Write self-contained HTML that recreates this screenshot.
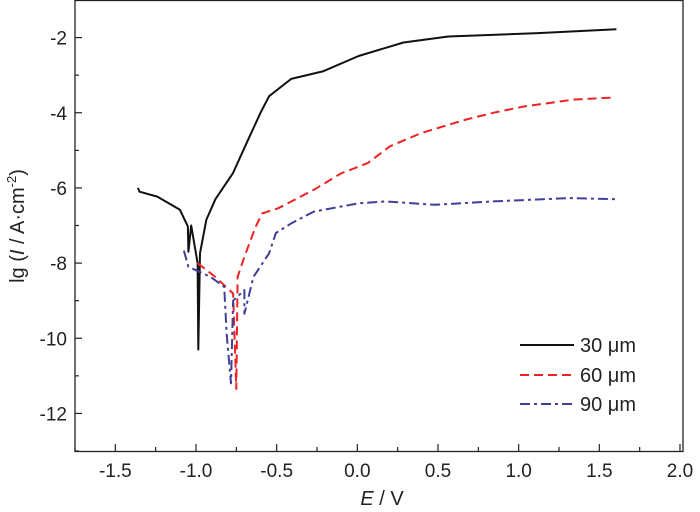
<!DOCTYPE html>
<html><head><meta charset="utf-8"><style>
html,body{margin:0;padding:0;background:#fff;}
svg{display:block;font-family:"Liberation Sans",Arial,sans-serif;}
</style></head><body>
<svg id="chart" width="700" height="512" viewBox="0 0 700 512">
<g id="axes"></g>
<g id="series"></g>
<g id="legend"></g>
<text x="382" y="505" font-size="20" text-anchor="middle" fill="#222"><tspan font-style="italic">E</tspan> / V</text>
<text transform="translate(24,226) rotate(-90)" font-size="20" text-anchor="middle" fill="#222">lg (<tspan font-style="italic">I</tspan> / A·cm<tspan dy="-8" font-size="13">-2</tspan><tspan dy="8">)</tspan></text>
</svg>
<script>
const xTicks=[-1.5,-1.0,-0.5,0.0,0.5,1.0,1.5,2.0];
const xTickLabels=["-1.5","-1.0","-0.5","0.0","0.5","1.0","1.5","2.0"];
const yTicks=[-2,-4,-6,-8,-10,-12];
const yTickLabels=["-2","-4","-6","-8","-10","-12"];
const seriesNames=["30 μm","60 μm","90 μm"];
const e30=[-1.36,-1.35,-1.24,-1.10,-1.05,-1.047,-1.03,-0.99,-0.986,-0.975,-0.936,-0.88,-0.77,-0.686,-0.60,-0.547,-0.41,-0.214,0.008,0.286,0.564,1.12,1.606];
const lg30=[-6.0,-6.1,-6.23,-6.58,-7.03,-7.7,-7.0,-8.0,-10.3,-7.74,-6.85,-6.3,-5.6,-4.8,-4.0,-3.56,-3.1,-2.9,-2.49,-2.13,-1.97,-1.88,-1.78];
const e60=[-0.99,-0.88,-0.77,-0.75,-0.742,-0.70,-0.63,-0.59,-0.49,-0.27,-0.10,0.064,0.203,0.397,0.675,0.842,1.036,1.342,1.564,1.60];
const lg60=[-8.0,-8.37,-8.81,-11.35,-8.37,-7.83,-7.03,-6.68,-6.54,-6.05,-5.61,-5.34,-4.89,-4.54,-4.18,-4.0,-3.83,-3.65,-3.6,-3.6];
const e90=[-1.075,-1.047,-0.908,-0.825,-0.81,-0.783,-0.77,-0.70,-0.70,-0.644,-0.547,-0.505,-0.408,-0.27,0.008,0.175,0.48,0.842,1.314,1.606];
const lg90=[-7.67,-8.1,-8.37,-8.63,-9.9,-11.2,-9.0,-8.72,-9.35,-8.37,-7.74,-7.2,-6.94,-6.63,-6.41,-6.36,-6.45,-6.36,-6.27,-6.3];

const NS="http://www.w3.org/2000/svg";
const L=75,R=680,T=0,B=451,xmin=-1.75,xmax=2.0,ymin=-13,ymax=-1;
function sx(v){return L+(v-xmin)/(xmax-xmin)*(R-L);}
function sy(v){return B-(v-ymin)/(ymax-ymin)*(B-T);}
function mk(tag,attrs,parent){const e=document.createElementNS(NS,tag);for(const k in attrs)e.setAttribute(k,attrs[k]);parent.appendChild(e);return e;}
const axes=document.getElementById('axes');
const frame=mk('rect',{x:L,y:T+0.5,width:R-L+3,height:B-T,fill:'none',stroke:'#222','stroke-width':1.3},axes);


for(let v=-1.75;v<=2.001;v+=0.25){
  const major=Math.abs(v*2-Math.round(v*2))<1e-6;
  const t=mk('line',{x1:sx(v),x2:sx(v),y1:B,y2:B-(major?7:4),stroke:'#222','stroke-width':1.2},axes);
  
  
}
for(let v=-13;v<=-1;v+=1){
  const major=v%2===0;
  const t=mk('line',{x1:L,x2:L+(major?7:4),y1:sy(v),y2:sy(v),stroke:'#222','stroke-width':1.2},axes);
  
  
}
xTicks.forEach((v,i)=>{
  const t=mk('text',{x:sx(v),y:477,'font-size':19,'text-anchor':'middle',fill:'#222'},axes);
  t.textContent=xTickLabels[i];
  
  
});
yTicks.forEach((v,i)=>{
  const t=mk('text',{x:67,y:sy(v)+7,'font-size':19,'text-anchor':'end',fill:'#222'},axes);
  t.textContent=yTickLabels[i];
  
  
});
const ser=document.getElementById('series');
const styles=[{c:'#111',d:''},{c:'#ee2222',d:'9,5'},{c:'#3f3f9a',d:'10,4,3,4'}];
const data=[[e30,lg30],[e60,lg60],[e90,lg90]];
data.forEach((s,k)=>{
  const d=s[0].map((x,i)=>(i?'L':'M')+sx(x).toFixed(1)+','+sy(s[1][i]).toFixed(1)).join('');
  const p=mk('path',{d:d,fill:'none',stroke:styles[k].c,'stroke-width':2,'stroke-dasharray':styles[k].d,'stroke-linejoin':'round'},ser);
  
  
});
const leg=document.getElementById('legend');
const ly=[345,375,404];
seriesNames.forEach((n,k)=>{
  const l=mk('line',{x1:520,x2:574,y1:ly[k],y2:ly[k],stroke:styles[k].c,'stroke-width':2,'stroke-dasharray':styles[k].d},leg);
  
  
  const t=mk('text',{x:580,y:ly[k]+7,'font-size':20,fill:'#222'},leg);
  t.textContent=n;
  
  
});
</script>
</body></html>
